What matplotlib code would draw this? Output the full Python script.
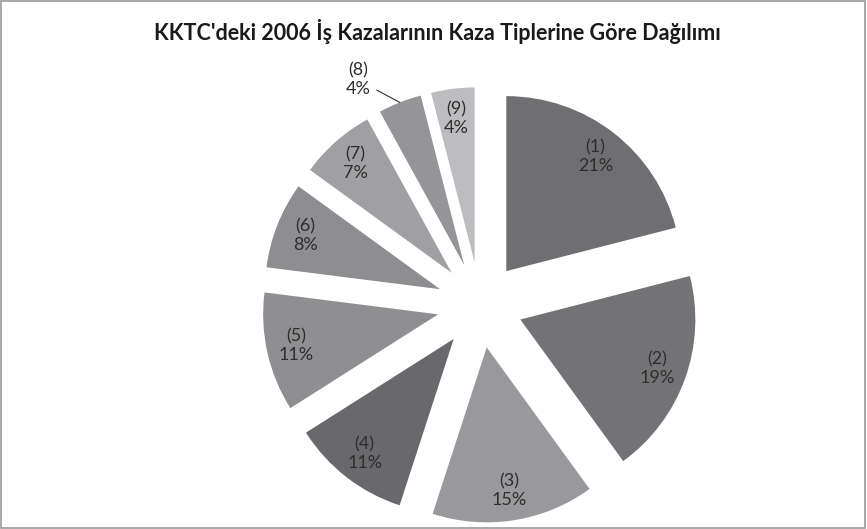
import numpy as np
import matplotlib.pyplot as plt

plt.rcParams['font.family'] = ['Lato', 'DejaVu Sans']

title = "KKTC'deki 2006 İş Kazalarının Kaza Tiplerine Göre Dağılımı"
categories = ['(1)', '(2)', '(3)', '(4)', '(5)', '(6)', '(7)', '(8)', '(9)']
values = [21, 19, 15, 11, 11, 8, 7, 4, 4]
colors = ['#6f6f72', '#737376', '#99999c', '#69696c', '#8f8f92',
          '#8e8e91', '#a0a0a3', '#959598', '#bdbdc0']

W, H = 867, 529
cx, cy, R = 480, 305, 175   # pie centre and radius in pixels

fig = plt.figure(figsize=(W / 100, H / 100), dpi=100)
ax = fig.add_axes([0, 0, 1, 1])

labels = ['%s\n%d%%' % (c, v) for c, v in zip(categories, values)]
shown = [l if c != '(8)' else '' for c, l in zip(categories, labels)]

wedges, texts = ax.pie(values, colors=colors, startangle=90, counterclock=False,
                       explode=[0.245] * len(values), labels=shown,
                       labeldistance=0.83, radius=1,
                       textprops=dict(fontsize=13, color='#2e2e2e',
                                      ha='center', va='center',
                                      linespacing=1.2))
for t in texts:
    t.set_horizontalalignment('center')

# pie() resets the limits, so set them afterwards
ax.set_xlim(-cx / R, (W - cx) / R)
ax.set_ylim(-(H - cy) / R, cy / R)
ax.axis('off')

# slice (8) is labelled outside with a leader line
w8 = wedges[categories.index('(8)')]
ang = np.deg2rad((w8.theta1 + w8.theta2) / 2)
tip = (w8.center[0] + np.cos(ang), w8.center[1] + np.sin(ang))
ax.annotate(labels[categories.index('(8)')], xy=tip,
            xytext=(tip[0] - 0.24, tip[1] + 0.13),
            fontsize=13, color='#2e2e2e', ha='center', va='center',
            linespacing=1.2,
            arrowprops=dict(arrowstyle='-', color='#2e2e2e', lw=0.8,
                            relpos=(1.0, 0.3), shrinkA=3, shrinkB=0))

fig.text(437 / W, 1 - 32 / H, title, ha='center', va='center',
         fontsize=15.5, fontweight='bold', color='#1a1a1a')

fig.patches.append(plt.Rectangle((0.001, 0.002), 0.997, 0.996,
                                 transform=fig.transFigure, fill=False,
                                 edgecolor='#9a9a9a', lw=1.2))

fig.savefig('out.png', dpi=100)
